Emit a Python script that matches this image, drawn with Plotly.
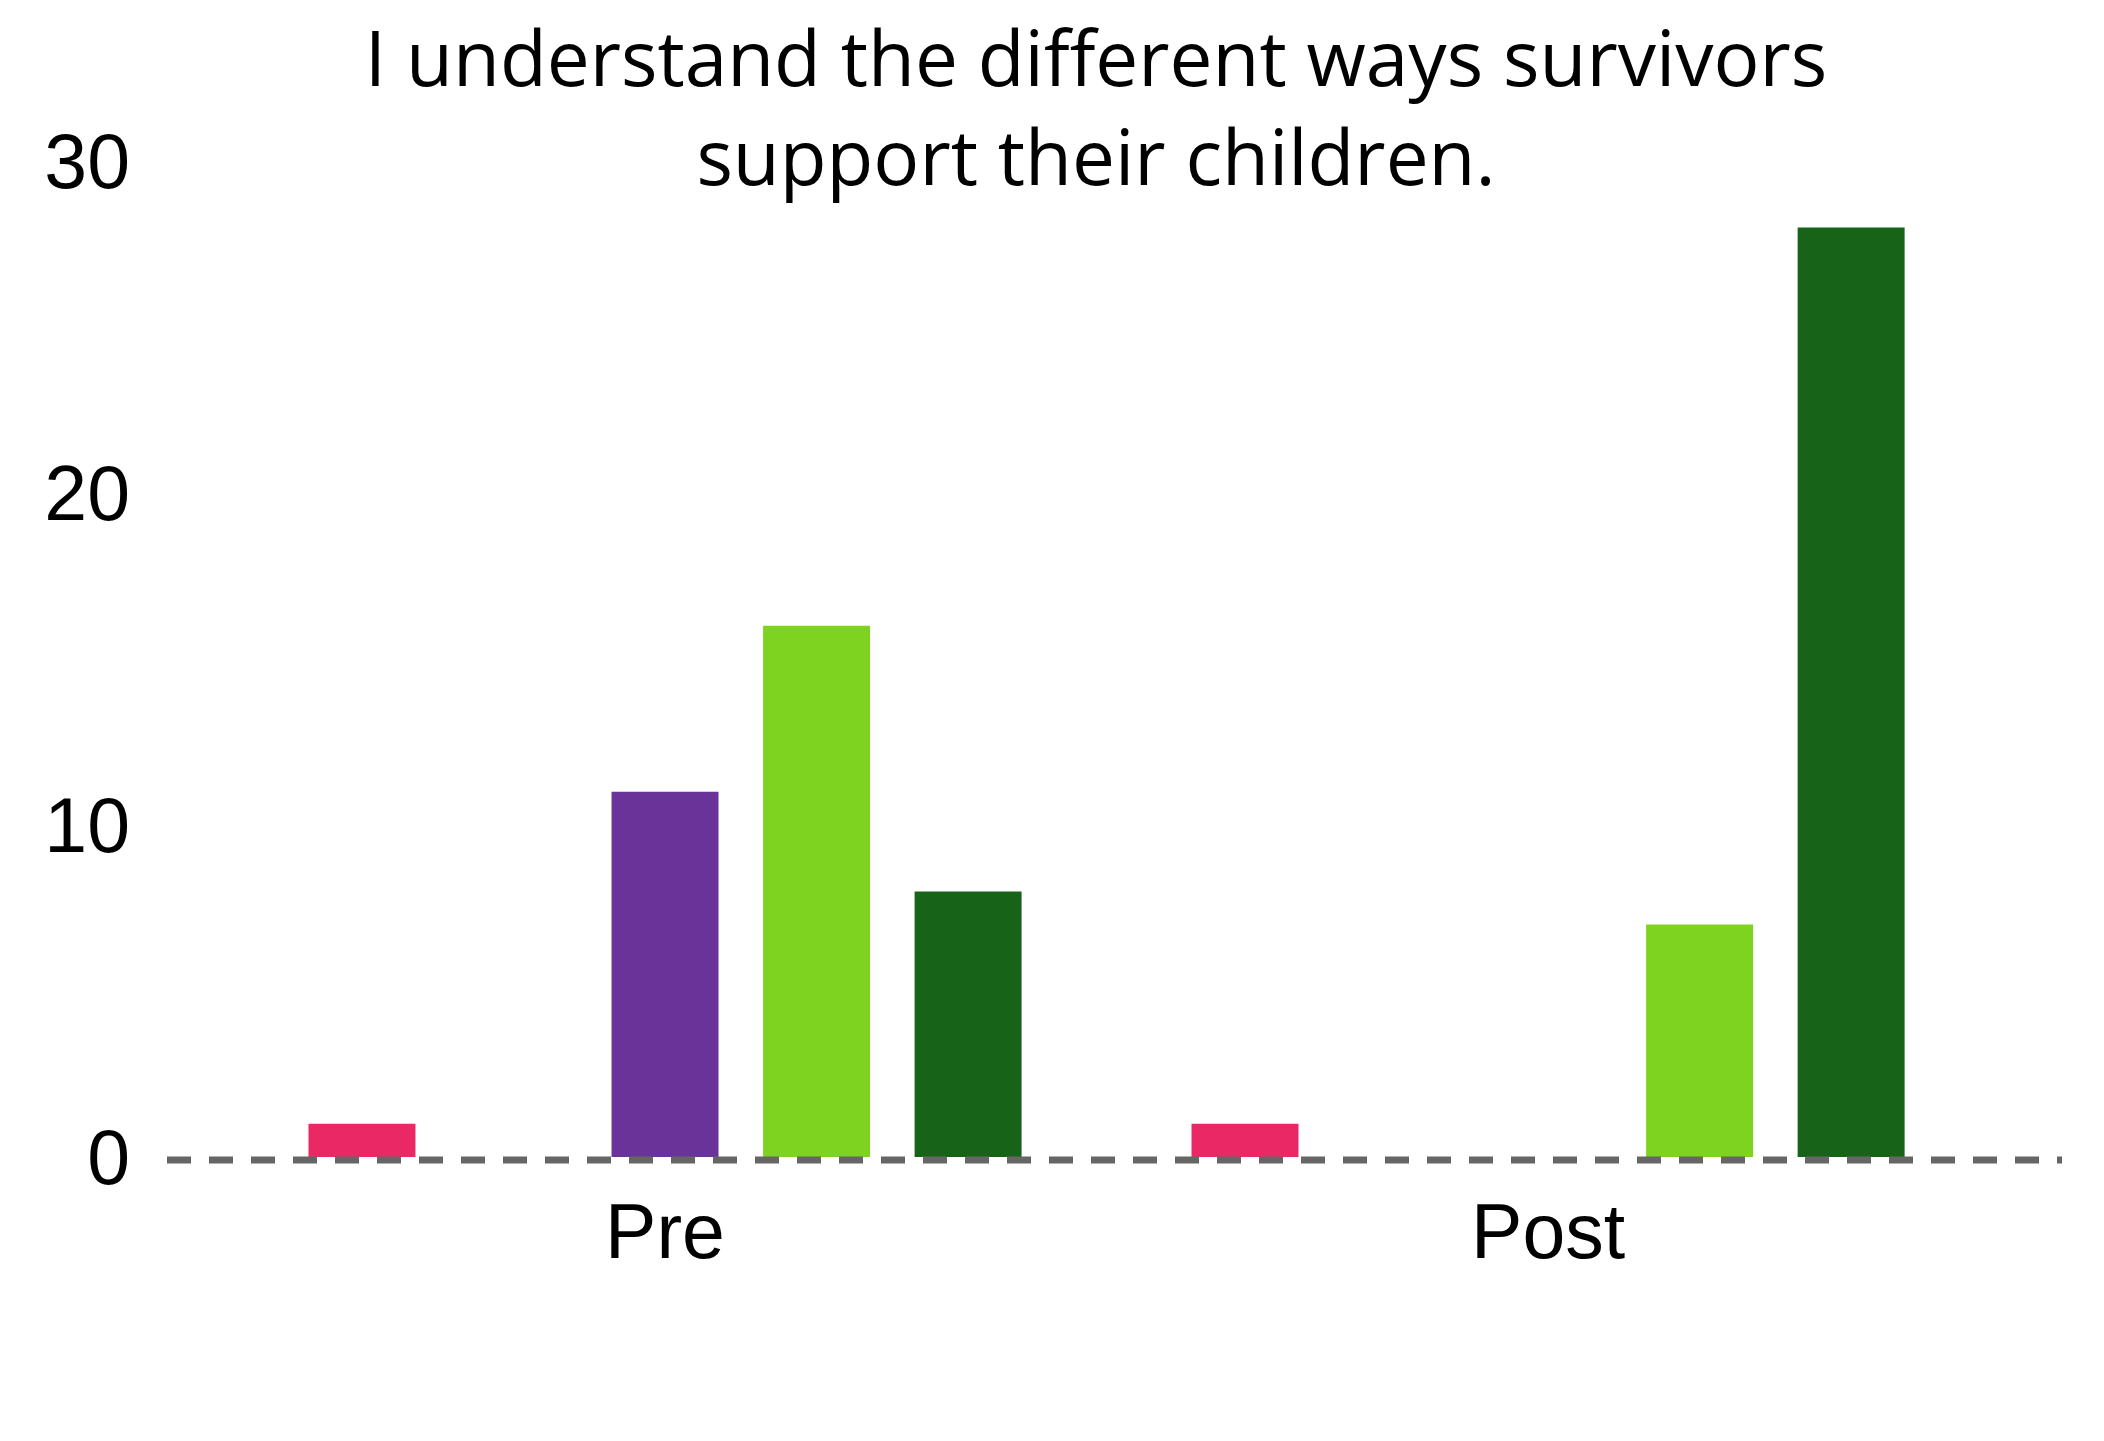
import plotly.graph_objects as go

# Survey responses before and after the session
groups = ["Pre", "Post"]
responses = ["Strongly Disagree", "Disagree", "Neutral", "Agree", "Strongly Agree"]
strongly_disagree = [1, 1]
disagree = [0, 0]
neutral = [11, 0]
agree = [16, 7]
strongly_agree = [8, 28]

colors = ["#EA2866", "#F5A623", "#6A3399", "#7ED321", "#176419"]
series = [strongly_disagree, disagree, neutral, agree, strongly_agree]

fig = go.Figure()
for name, vals, col in zip(responses, series, colors):
    fig.add_trace(go.Bar(x=groups, y=vals, name=name, marker_color=col,
                         marker_line_width=0))

W, H = 2104, 1441
left, right, top, bottom = 167, 42, 161, 284
plot_h = H - top - bottom

fig.update_layout(
    width=W, height=H,
    margin=dict(l=left, r=right, t=top, b=bottom, pad=0),
    paper_bgcolor="white", plot_bgcolor="white",
    barmode="group", bargap=0.142, bargroupgap=0.294,
    showlegend=False,
    title=dict(
        text="I understand the different ways survivors<br>support their children.",
        font=dict(family="Open Sans", size=76.5, color="#000000"),
        x=1096 / W, xref="container", xanchor="center",
        y=1 - 86 / H, yref="container", yanchor="top",
    ),
    xaxis=dict(
        type="category", range=[-0.564, 1.582],
        showgrid=False, zeroline=False, showline=False, ticks="",
        tickfont=dict(family="Liberation Sans", size=77, color="#000000"),
        ticklabelstandoff=23,
    ),
    yaxis=dict(
        range=[0, 30], tickvals=[0, 10, 20, 30],
        showgrid=False, zeroline=False, showline=False, ticks="",
        tickfont=dict(family="Liberation Sans", size=77, color="#000000"),
        ticklabelstandoff=36,
    ),
)

# dashed baseline just under the bars
off = -3 / plot_h
fig.add_shape(type="line", xref="paper", yref="paper", x0=0, x1=1, y0=off, y1=off,
              line=dict(color="#666666", width=7, dash="24px,18px"), layer="above")

fig.write_html("out.html")
